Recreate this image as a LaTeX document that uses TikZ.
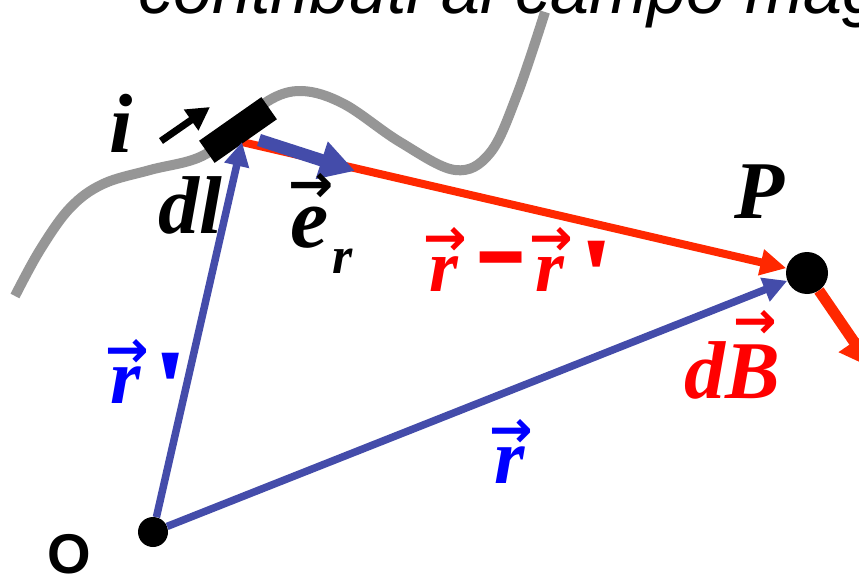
\documentclass[tikz,border=0pt]{standalone}
\usepackage{fontspec}
\usepackage{graphicx}
\setsansfont{Liberation Sans}
\newfontfamily\lab{Liberation Serif}
\newfontfamily\arrowfam{DejaVu Sans}
\usetikzlibrary{arrows.meta}
\definecolor{vblue}{RGB}{68,76,170}
\definecolor{vred}{RGB}{255,40,0}
\definecolor{wgray}{RGB}{150,150,150}
\definecolor{tred}{RGB}{255,0,0}
\definecolor{tblue}{RGB}{0,0,255}
\newcommand\fs[1]{\fontsize{#1}{#1}\selectfont}
% put the ink centre of #2 at height #1 above the baseline
\newcommand\centerat[2]{\setbox4\hbox{#2}\raise\dimexpr#1-(\ht4-\dp4)/2\relax\box4}
% put the top of #2 at height #1 above the baseline
\newcommand\topat[2]{\setbox4\hbox{#2}\raise\dimexpr#1-\ht4\relax\box4}
% letter with vector arrow: #1 letter, #2 arrow centre height, #3 x shift, #4 arrow size
\newcommand\vecarrow[4]{%
  \setbox2\hbox{#1}%
  \rlap{\hbox to\wd2{\hss\kern#3\centerat{#2}{\arrowfam\fs{#4}→}\hss}}\box2}
\newcommand\primemark{\topat{50pt}{\upshape\fs{92}\scalebox{1.5}[1.2]{'}}}
\newcommand\minusmark{\centerat{17pt}{\scalebox{1.1}[2.2]{–}}}
\begin{document}
\begin{tikzpicture}[x=1pt,y=-1pt,
  wire/.style={wgray,line width=10pt},
  dot/.style={circle,fill=black,inner sep=0pt},
  lbl/.style={inner sep=0pt,anchor=base west},
  vecb/.style={vblue,line width=7.5pt,-{Triangle[length=24pt,width=24pt]}},
  vecr/.style={vred,line width=8pt,-{Triangle[length=26pt,width=25pt]}}]
\useasboundingbox (0,0) rectangle (859,575);
\clip (0,0) rectangle (859,575);
% title (cut by the frame)
\node[lbl,font={\sffamily\itshape\fs{70}}] (title) at (138,14) {contributi al campo magnetico};
% wire
\draw[wire] plot[smooth,tension=0.6] coordinates {(15,296) (40,250) (70,208) (103,184) (150,170) (200,157) (238,130) (268,101) (302,91) (344,104) (400,142) (455,170) (490,153) (517,95) (545,12)};
% points
\coordinate (src) at (242,142);
\coordinate (ers) at (259,140);
\coordinate (ert) at (355,171);
\coordinate (iS) at (161,141);
\coordinate (iT) at (210,107);
\coordinate (dBt) at (872,368);
\node[dot,minimum size=30pt] (O) at (153,532) {};
\node[dot,minimum size=42pt] (P) at (807,273) {};
% r - r'
\draw[vecr] (src) -- (P);
% current element
\node[fill=black,minimum width=76pt,minimum height=27pt,inner sep=0pt,rotate=35] (dl) at (238,130) {};
% position vectors
\draw[vecb] (O) -- (src);
\draw[vecb] (O) -- (P);
% unit vector
\draw[vblue,line width=12.5pt,-{Triangle[length=35pt,width=37pt]}] (ers) -- (ert);
% current direction
\draw[black,line width=7pt,-{Triangle[length=23pt,width=24pt]}] (iS) -- (iT);
% dB
\draw[vred,line width=11pt,-{Triangle[length=32pt,width=35pt]}] (P) -- (dBt);
% labels
\node[lbl,font={\lab\bfseries\itshape\fs{84}}] (il) at (109,152) {i};
\node[lbl,font={\lab\bfseries\itshape\fs{82}}] (dll) at (158,233) {dl};
\node[lbl,font={\lab\bfseries\itshape\fs{86}}] (erl) at (290,247) {\vecarrow{e}{59pt}{3pt}{54}\kern4pt\lower26pt\hbox{\fs{52}r}};
\node[lbl,font={\lab\bfseries\itshape\fs{82}}] (Pl) at (734,218) {P};
\node[lbl,font={\lab\bfseries\itshape\fs{74}},text=tred] (rrl) at (429,291) {\vecarrow{r}{50pt}{3pt}{52}\kern23pt\minusmark\kern14pt\vecarrow{r}{50pt}{3pt}{52}\kern13pt\primemark};
\node[lbl,font={\lab\bfseries\itshape\fs{78}},text=tblue] (rpl) at (110,403) {\vecarrow{r}{50pt}{3pt}{52}\kern11pt\primemark};
\node[lbl,font={\lab\bfseries\itshape\fs{78}},text=tblue] (rl) at (494,483) {\vecarrow{r}{50pt}{4pt}{52}};
\node[lbl,font={\lab\bfseries\itshape\fs{82}},text=tred] (dBl) at (684,398) {d\vecarrow{B}{74pt}{5pt}{52}};
\node[lbl,font={\sffamily\bfseries\fs{56}}] (Ol) at (47,573) {O};
\end{tikzpicture}
\end{document}
